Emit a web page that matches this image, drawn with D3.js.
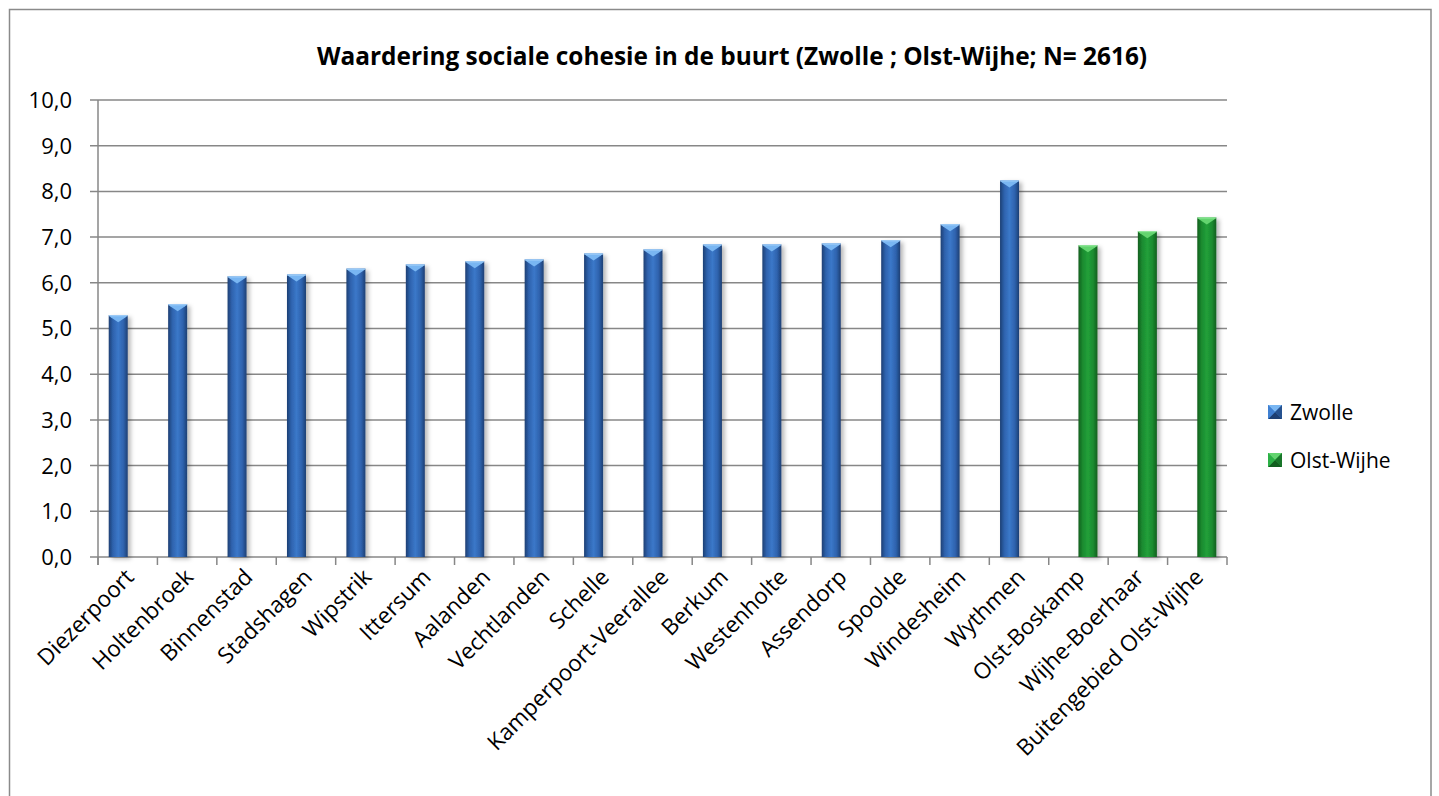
<!DOCTYPE html>
<html>
<head>
<meta charset="utf-8">
<script src="https://cdn.jsdelivr.net/npm/d3@7"></script>
<style>
  html, body { margin: 0; padding: 0; background: #fff; }
  svg { display: block; }
  text { font-family: "Open Sans", "Noto Sans", sans-serif; fill: #000; }
</style>
</head>
<body>
<svg id="chart" width="1439" height="796"></svg>
<script>
const title = "Waardering sociale cohesie in de buurt (Zwolle ; Olst-Wijhe; N= 2616)";
const categories = ["Diezerpoort","Holtenbroek","Binnenstad","Stadshagen","Wipstrik","Ittersum","Aalanden","Vechtlanden","Schelle","Kamperpoort-Veerallee","Berkum","Westenholte","Assendorp","Spoolde","Windesheim","Wythmen","Olst-Boskamp","Wijhe-Boerhaar","Buitengebied Olst-Wijhe"];
const seriesNames = ["Zwolle","Olst-Wijhe"];
const zwolleValues = [5.29,5.53,6.14,6.18,6.31,6.40,6.47,6.51,6.64,6.73,6.84,6.84,6.86,6.93,7.28,8.24,null,null,null];
const olstWijheValues = [null,null,null,null,null,null,null,null,null,null,null,null,null,null,null,null,6.82,7.13,7.43];
const yTicks = [0,1,2,3,4,5,6,7,8,9,10];

const svg = d3.select("#chart");
const plot = {left: 98, right: 1227, top: 100, bottom: 557};

const defs = svg.append("defs");
function barGrad(id, edge, mid, center) {
  const g = defs.append("linearGradient").attr("id", id).attr("x1","0").attr("x2","1").attr("y1","0").attr("y2","0");
  g.append("stop").attr("offset","0%").attr("stop-color", edge);
  g.append("stop").attr("offset","22%").attr("stop-color", mid);
  g.append("stop").attr("offset","50%").attr("stop-color", center);
  g.append("stop").attr("offset","78%").attr("stop-color", mid);
  g.append("stop").attr("offset","100%").attr("stop-color", edge);
}
barGrad("gBlue", "#1d3f73", "#2e62ad", "#3b78c9");
barGrad("gGreen", "#115e1e", "#1b8a2f", "#22a03a");
const f = defs.append("filter").attr("id","shadow").attr("x","-30%").attr("y","-10%").attr("width","180%").attr("height","130%");
f.append("feDropShadow").attr("dx",3).attr("dy",2).attr("stdDeviation",2.2).attr("flood-color","#000").attr("flood-opacity",0.28);

const series = [
  {name: seriesNames[0], values: zwolleValues, fill: "url(#gBlue)", cap: "#79b6f2", capEdge: "#a9d4fb", dark: "#1d3f73", light: "#3f80d2"},
  {name: seriesNames[1], values: olstWijheValues, fill: "url(#gGreen)", cap: "#63d46f", capEdge: "#9ceca5", dark: "#115e1e", light: "#2cb046"}
];

// Outer border
svg.append("rect").attr("x", 9.5).attr("y", 9.5).attr("width", 1421.5).attr("height", 800)
  .attr("fill", "#fff").attr("stroke", "#8a8a8a").attr("stroke-width", 1.5);

const x = d3.scaleBand().domain(categories).range([plot.left, plot.right]).paddingInner(0).paddingOuter(0);
const xs = d3.scaleBand().domain(seriesNames).range([0, x.bandwidth()]).paddingInner(0).paddingOuter(0.564);
const y = d3.scaleLinear().domain([0, 10]).range([plot.bottom, plot.top]);

// Gridlines
svg.append("g").selectAll("line").data(yTicks).join("line")
  .attr("x1", plot.left - 8).attr("x2", plot.right)
  .attr("y1", d => y(d)).attr("y2", d => y(d))
  .attr("stroke", "#878787").attr("stroke-width", 1.5);

// Y axis line
svg.append("line").attr("x1", plot.left).attr("x2", plot.left).attr("y1", plot.top).attr("y2", plot.bottom + 8)
  .attr("stroke", "#878787").attr("stroke-width", 1.5);

// Y tick labels
const fmt = d => d3.format(".1f")(d).replace(".", ",");
svg.append("g").selectAll("text").data(yTicks).join("text")
  .attr("x", 72).attr("y", d => y(d)).attr("dy", "0.36em")
  .attr("text-anchor", "end").attr("font-size", 22).text(fmt);

// X category tick marks (boundaries)
const boundaries = categories.map(c => x(c)).concat([plot.right]);
svg.append("g").selectAll("line").data(boundaries).join("line")
  .attr("x1", d => d).attr("x2", d => d).attr("y1", plot.bottom).attr("y2", plot.bottom + 8)
  .attr("stroke", "#878787").attr("stroke-width", 1.5);

// Bars
series.forEach(s => {
  const g = svg.append("g");
  const data = categories.map((c, i) => ({c, v: s.values[i]})).filter(d => d.v != null);
  const bw = xs.bandwidth();
  const bx = d => x(d.c) + xs(s.name);
  g.selectAll("rect.bar").data(data).join("rect").attr("class","bar")
    .attr("x", bx).attr("y", d => y(d.v)).attr("width", bw).attr("height", d => y(0) - y(d.v))
    .attr("fill", s.fill).attr("filter", "url(#shadow)");
  g.selectAll("path.cap").data(data).join("path").attr("class","cap")
    .attr("d", d => {
      const x0 = bx(d), x1 = x0 + bw, t = y(d.v);
      return `M${x0},${t} L${x1},${t} L${x1 - 2},${t + 2} L${x0 + bw/2},${t + 7} L${x0 + 2},${t + 2} Z`;
    })
    .attr("fill", s.cap);
  g.selectAll("line.capedge").data(data).join("line").attr("class","capedge")
    .attr("x1", d => bx(d)).attr("x2", d => bx(d) + bw).attr("y1", d => y(d.v) + 0.5).attr("y2", d => y(d.v) + 0.5)
    .attr("stroke", s.capEdge).attr("stroke-width", 1);
});

// Category labels
svg.append("g").selectAll("text").data(categories).join("text")
  .attr("transform", d => `translate(${x(d) + x.bandwidth()/2 - 4},${plot.bottom + 10}) rotate(-45)`)
  .attr("text-anchor", "end").attr("dy", "0.72em").attr("font-size", 22.5).text(d => d);

// Title
const t = svg.append("text").attr("x", 732).attr("y", 65).attr("text-anchor", "middle")
  .attr("font-size", 21).attr("font-weight", "bold").text(title);
const tw = t.node().getComputedTextLength();
t.attr("font-size", 21 * 831 / tw);

// Legend
const legend = svg.append("g");
const legY = [412, 460];
series.forEach((s, i) => {
  const lx = 1268, ly = legY[i] - 7, sz = 14;
  const lg = legend.append("g");
  lg.append("rect").attr("x", lx).attr("y", ly).attr("width", sz).attr("height", sz).attr("fill", s.light);
  lg.append("path").attr("d", `M${lx},${ly} L${lx+sz},${ly} L${lx+sz/2},${ly+sz/2} Z`).attr("fill", s.cap);
  lg.append("path").attr("d", `M${lx},${ly+sz} L${lx+sz},${ly+sz} L${lx+sz/2},${ly+sz/2} Z`).attr("fill", s.dark);
  lg.append("path").attr("d", `M${lx},${ly} L${lx},${ly+sz} L${lx+sz/2},${ly+sz/2} Z`).attr("fill", s.light);
  lg.append("path").attr("d", `M${lx+sz},${ly} L${lx+sz},${ly+sz} L${lx+sz/2},${ly+sz/2} Z`).attr("fill", s.dark).attr("opacity", 0.7);
  lg.append("text").attr("x", 1290).attr("y", legY[i]).attr("dy", "0.36em").attr("font-size", 21).text(s.name);
});
</script>
</body>
</html>
